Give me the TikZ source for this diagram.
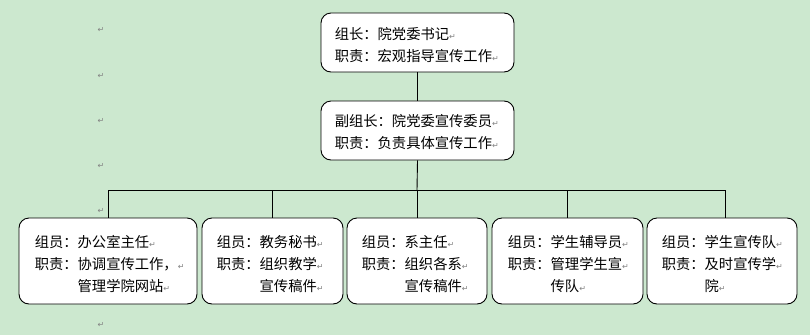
\documentclass[tikz,border=0pt]{standalone}
\usepackage{fontspec}
\newfontfamily\cjk{Noto Sans CJK SC}
\newfontfamily\dejavu{DejaVu Sans}
\definecolor{bggreen}{RGB}{204,232,207}
\definecolor{markgray}{RGB}{130,130,130}
\newcommand\retmark{{\dejavu\fontsize{8}{8}\selectfont\textcolor{markgray}{↵}}}
\tikzset{
  orgbox/.style={draw=black, line width=0.9pt, fill=white, rounded corners=10pt, inner sep=0pt},
  orgtext/.style={anchor=west, align=left, inner sep=0pt, font={\cjk\fontsize{14.3}{22}\selectfont}},
  lonemark/.style={inner sep=0pt},
  conn/.style={draw=black, line width=0.9pt}
}
\begin{document}
\begin{tikzpicture}[x=1pt,y=-1pt]
\fill[bggreen] (0,0) rectangle (810,335);
\useasboundingbox (0,0) rectangle (810,335);
% boxes
\node[orgbox, minimum width=193pt, minimum height=59pt] (top) at (417.5,42.5) {};
\node[orgbox, minimum width=193pt, minimum height=59pt] (mid) at (417.5,130.5) {};
\node[orgbox, minimum width=178pt, minimum height=86pt] (b1) at (108,261) {};
\node[orgbox, minimum width=141pt, minimum height=86pt] (b2) at (272.5,261) {};
\node[orgbox, minimum width=140pt, minimum height=86pt] (b3) at (417,261) {};
\node[orgbox, minimum width=151pt, minimum height=86pt] (b4) at (567.5,261) {};
\node[orgbox, minimum width=150pt, minimum height=86pt] (b5) at (722,261) {};
% texts
\node[orgtext] (ttop) at ([xshift=14pt,yshift=-3pt]top.west) {组长：院党委书记\retmark\\职责：宏观指导宣传工作\retmark};
\node[orgtext] (tmid) at ([xshift=14pt,yshift=-2pt]mid.west) {副组长：院党委宣传委员\retmark\\职责：负责具体宣传工作\retmark};
\node[orgtext] (tb1) at ([xshift=16pt,yshift=-3pt]b1.west) {组员：办公室主任\retmark\\职责：协调宣传工作，\retmark\\\hspace*{3em}管理学院网站\retmark};
\node[orgtext] (tb2) at ([xshift=15pt,yshift=-3pt]b2.west) {组员：教务秘书\retmark\\职责：组织教学\retmark\\\hspace*{3em}宣传稿件\retmark};
\node[orgtext] (tb3) at ([xshift=15pt,yshift=-3pt]b3.west) {组员：系主任\retmark\\职责：组织各系\retmark\\\hspace*{3em}宣传稿件\retmark};
\node[orgtext] (tb4) at ([xshift=16pt,yshift=-3pt]b4.west) {组员：学生辅导员\retmark\\职责：管理学生宣\retmark\\\hspace*{3em}传队\retmark};
\node[orgtext] (tb5) at ([xshift=15pt,yshift=-3pt]b5.west) {组员：学生宣传队\retmark\\职责：及时宣传学\retmark\\\hspace*{3em}院\retmark};
% loose paragraph marks
\node[lonemark] (m1) at (101,30) {\retmark};
\node[lonemark] (m2) at (101,76) {\retmark};
\node[lonemark] (m3) at (101,121) {\retmark};
\node[lonemark] (m4) at (101,166) {\retmark};
\node[lonemark] (m5) at (101,211) {\retmark};
\node[lonemark] (m6) at (101,325) {\retmark};
% connectors
\coordinate (bus) at (417,190);
\draw[conn] (top.south) -- (mid.north);
\draw[conn] (mid.south) -- (bus);
\draw[conn] (bus) -| (b1.north);
\draw[conn] (bus) -| (b2.north);
\draw[conn] (bus) -- (b3.north);
\draw[conn] (bus) -| (b4.north);
\draw[conn] (bus) -| ([xshift=3pt]b5.north);
\end{tikzpicture}
\end{document}
